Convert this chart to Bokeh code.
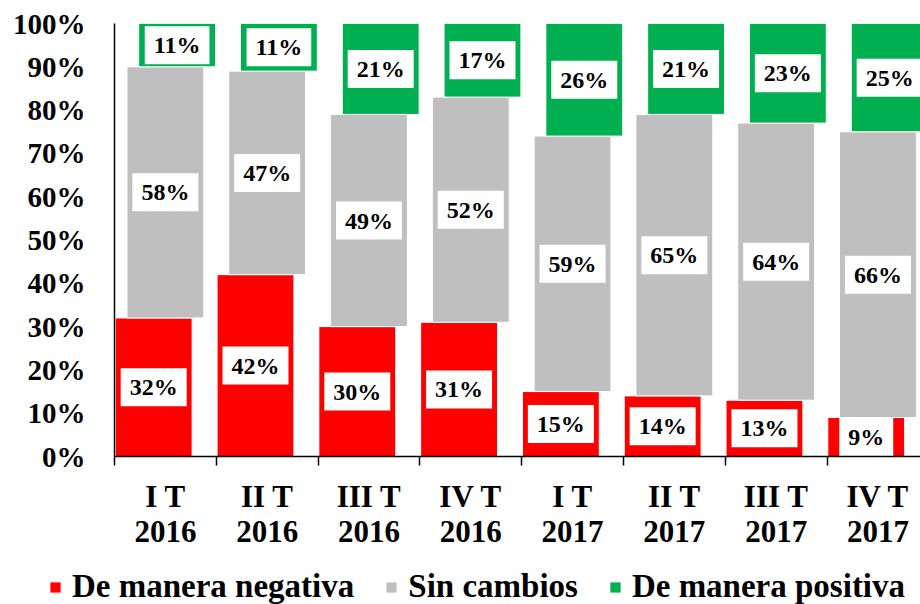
from bokeh.plotting import figure
from bokeh.layouts import column
from bokeh.models import (ColumnDataSource, Range1d, FixedTicker, PrintfTickFormatter,
                          Legend, LegendItem)
from bokeh.core.properties import value
from bokeh.embed import file_html
from bokeh.resources import INLINE

# ---- data ----
quarters = ["I T", "II T", "III T", "IV T", "I T", "II T", "III T", "IV T"]
years = ["2016", "2016", "2016", "2016", "2017", "2017", "2017", "2017"]
negativa = [32, 42, 30, 31, 15, 14, 13, 9]
sin_cambios = [58, 47, 49, 52, 59, 65, 64, 66]
positiva = [11, 11, 21, 17, 26, 21, 23, 25]
series_names = ["De manera negativa", "Sin cambios", "De manera positiva"]
colors = ["#FF0000", "#BFBFBF", "#00B050"]

FONT = "Liberation Serif"
n = len(quarters)
offsets = [0.385, 0.5, 0.615]
bar_w = 0.755

p = figure(frame_width=806, frame_height=433, output_backend="svg", toolbar_location=None,
           x_range=Range1d(0, 7.918), y_range=Range1d(0, 100),
           min_border_left=114, min_border_right=0, min_border_top=23,
           min_border_bottom=104)
p.outline_line_color = None
p.grid.grid_line_color = None
p.background_fill_color = "white"
p.border_fill_color = "white"

# stacked bottoms/tops
bottoms = []
tops = []
b = [0] * n
for vals in (negativa, sin_cambios, positiva):
    t = [bb + v for bb, v in zip(b, vals)]
    bottoms.append(b)
    tops.append(t)
    b = t

for k, vals in enumerate((negativa, sin_cambios, positiva)):
    xs = [i + offsets[k] for i in range(n)]
    src = ColumnDataSource(dict(x=xs, bottom=bottoms[k], top=tops[k]))
    p.vbar(x="x", bottom="bottom", top="top", width=bar_w, source=src,
           fill_color=colors[k], line_color="white", line_width=1)

# labels
for k, vals in enumerate((negativa, sin_cambios, positiva)):
    xs = [i + offsets[k] for i in range(n)]
    ys = [(lo + min(hi, 100)) / 2 for lo, hi in zip(bottoms[k], tops[k])]
    txt = [f"{v}%" for v in vals]
    lsrc = ColumnDataSource(dict(x=xs, y=ys, t=txt))
    p.text(x="x", y="y", text="t", source=lsrc, text_align="center",
           text_baseline="middle", text_font=value(FONT), text_font_style="bold",
           text_font_size="24px", text_color="black",
           background_fill_color="white", padding=(9, 6))

# y axis
yax = p.yaxis[0]
yax.ticker = FixedTicker(ticks=list(range(0, 101, 10)))
yax.formatter = PrintfTickFormatter(format="%d%%")
yax.major_tick_line_color = None
yax.major_tick_out = 0
yax.major_tick_in = 0
yax.minor_tick_line_color = None
yax.major_label_text_font = FONT
yax.major_label_text_font_style = "bold"
yax.major_label_text_font_size = "29px"
yax.major_label_text_color = "black"
yax.major_label_standoff = 29
yax.axis_line_color = "black"
yax.axis_line_width = 1.5

# x axis
xax = p.xaxis[0]
centers = [i + 0.5 for i in range(n)]
xax.ticker = FixedTicker(ticks=centers, minor_ticks=list(range(0, n + 1)))
xax.major_label_overrides = {c: f"{q}\n{y}" for c, q, y in zip(centers, quarters, years)}
xax.major_tick_line_color = None
xax.major_tick_out = 0
xax.major_tick_in = 0
xax.minor_tick_line_color = "black"
xax.minor_tick_line_width = 1.5
xax.minor_tick_in = 0
xax.minor_tick_out = 9
xax.major_label_text_font = FONT
xax.major_label_text_font_style = "bold"
xax.major_label_text_font_size = "31px"
xax.major_label_text_line_height = 1.02
xax.major_label_text_color = "black"
xax.major_label_standoff = 13
xax.axis_line_color = "black"
xax.axis_line_width = 1.5

# legend strip (proxy renderers are hidden; only their legend swatches show)
pl = figure(frame_width=920, frame_height=44, output_backend="svg", toolbar_location=None,
            x_range=Range1d(0, 1), y_range=Range1d(0, 1),
            x_axis_location=None, y_axis_location=None,
            min_border_left=0, min_border_right=0, min_border_top=0, min_border_bottom=0)
pl.grid.grid_line_color = None
pl.outline_line_color = None
proxies = []
for k, vals in enumerate((negativa, sin_cambios, positiva)):
    psrc = ColumnDataSource(dict(x=list(range(n)), top=vals))
    proxies.append(pl.vbar(x="x", top="top", width=1, source=psrc, visible=False,
                           fill_color=colors[k], line_color="white", line_width=1))
legend = Legend(items=[LegendItem(label=series_names[k], renderers=[proxies[k]]) for k in range(3)],
                orientation="horizontal", location=(48, -1),
                label_text_font=FONT, label_text_font_style="bold",
                label_text_font_size="33px", label_text_color="black",
                glyph_width=14, glyph_height=14, label_standoff=10, spacing=30,
                padding=0, margin=0, border_line_color=None,
                background_fill_alpha=0)
pl.add_layout(legend, "center")

layout = column(p, pl, spacing=0)
open("out.html", "w").write(file_html(layout, INLINE))
